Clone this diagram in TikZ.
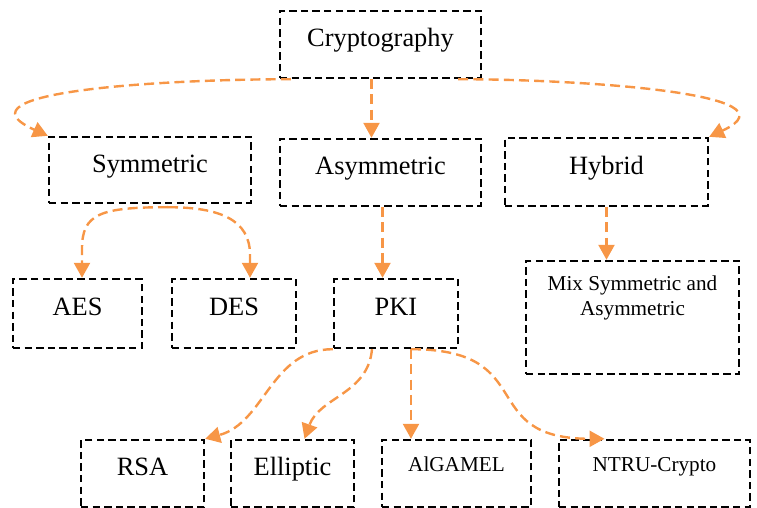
\documentclass[tikz,border=0pt]{standalone}
\usepackage{fontspec}
\setmainfont{Liberation Serif}
\usetikzlibrary{calc, arrows.meta, positioning}
\definecolor{linkorange}{RGB}{247,150,70}

\begin{document}
\begin{tikzpicture}[x=0.5pt, y=-0.5pt, >={Triangle[length=7.5pt,width=8pt]},
    box/.style={draw, line width=1.2pt, dash pattern=on 3.7pt off 2.1pt, inner sep=0pt,
      font=\fontsize{13.2}{15}\selectfont, text height=9.5pt, text depth=7pt},
    smallbox/.style={box, font=\fontsize{10.6}{12.5}\selectfont, text height=7pt, text depth=8.5pt},
    link/.style={linkorange, line width=1.2pt, dash pattern=on 5pt off 2.6pt, ->}]
  \useasboundingbox (0,0) rectangle (757,508);

  % --- Boxes ---
  \node[box, minimum width=100.5pt, minimum height=33.5pt] (crypt) at (380.5,44.5) {Cryptography};

  \node[box, minimum width=101pt, minimum height=33pt] (sym) at (150,170) {Symmetric};
  \node[box, minimum width=100.5pt, minimum height=33.5pt] (asym) at (380.5,172.5) {Asymmetric};
  \node[box, minimum width=101.5pt, minimum height=34pt] (hyb) at (606.5,172) {Hybrid};

  \node[box, minimum width=64.5pt, minimum height=34.5pt] (aes) at (77.5,313.5) {AES};
  \node[box, minimum width=62pt, minimum height=34.5pt] (des) at (234,313.5) {DES};
  \node[box, minimum width=62pt, minimum height=34.5pt] (pki) at (396,313.5) {PKI};
  \node[box, minimum width=106.5pt, minimum height=56.5pt] (mix) at (632.5,317.5) {};
  \node[font=\fontsize{10.6}{12.5}\selectfont, align=center, inner sep=0pt] (mixtxt) at (632.5,297.5)
    {Mix Symmetric and\\Asymmetric};

  \node[box, minimum width=61.5pt, minimum height=33.5pt] (rsa) at (142.5,473.5) {RSA};
  \node[box, minimum width=61.5pt, minimum height=33.5pt] (ell) at (292.5,473.5) {Elliptic};
  \node[smallbox, minimum width=74.5pt, minimum height=33.5pt] (alg) at (456.5,473.5) {AlGAMEL};
  \node[smallbox, minimum width=95.5pt, minimum height=33.5pt] (ntru) at (654.5,473.5) {NTRU-Crypto};

  % --- Cryptography to the three kinds ---
  \draw[link] ($(crypt.south west)+(12,0)$) .. controls +(-120,0) and +(-100,-45) .. (sym.north west);
  \draw[link] ($(crypt.south)+(-9,0)$) -- ($(crypt.south |- asym.north)+(-9,0)$);
  \draw[link] ($(crypt.south east)+(-24,0)$) .. controls +(115,0) and +(95,-44) .. (hyb.north east);

  % --- Symmetric ---
  \coordinate (symfoot) at ($(sym.south)+(18,3)$);
  \draw[link] (symfoot) .. controls +(-68,0) and +(0,-35) .. ($(aes.north)+(4.5,-29)$) -- ($(aes.north)+(4.5,0)$);
  \draw[link] (symfoot) .. controls +(52,0) and +(0,-35) .. ($(des.north)+(16,-23)$) -- ($(des.north)+(16,0)$);

  % --- Asymmetric and Hybrid ---
  \draw[link] ($(asym.south)+(2,0)$) -- ($(asym.south |- pki.north)+(2,0)$);
  \draw[link] (hyb.south) -- (hyb.south |- mix.north);

  % --- PKI ---
  \draw[link] (pki.south west) .. controls +(-62,0) and +(60,-16) .. (rsa.north east);
  \draw[link] ($(pki.south)+(-24,0)$) .. controls +(-4,45) and +(15,-42) .. ($(ell.north)+(12,0)$);
  \draw[link] ($(pki.south)+(15,0)$) -- ($(pki.south |- alg.north)+(15,0)$);
  \draw[link] ($(pki.south)+(15,0)$) .. controls +(130,0) and +(-130,0) .. ($(ntru.north)+(-50,0)$);
\end{tikzpicture}
\end{document}
